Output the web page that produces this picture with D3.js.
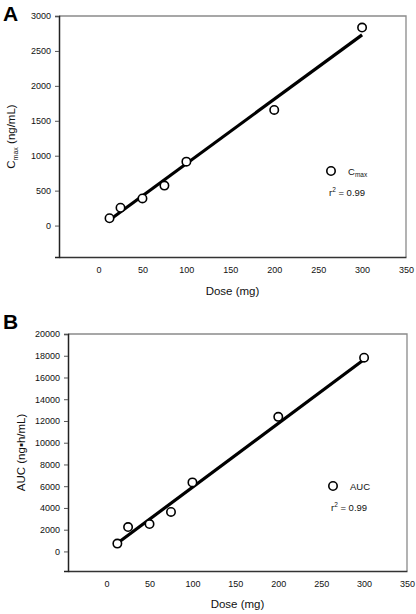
<!DOCTYPE html>
<html><head><meta charset="utf-8">
<script src="https://cdn.jsdelivr.net/npm/d3@7"></script>
<style>body{margin:0;background:#fff}svg{display:block;font-family:"Liberation Sans",Arial,sans-serif}</style>
</head><body>
<svg id="c" width="416" height="614"></svg>
<script>
// Data
const doses = [12.5, 25, 50, 75, 100, 200, 300];
const cmaxValues = [105, 255, 388, 572, 915, 1655, 2835];
const aucValues = [720, 2240, 2520, 3630, 6350, 12380, 17820];
const cmaxFit = [[12.5, 80], [300, 2730]];
const aucFit = [[12.5, 760], [300, 17650]];
const xTicks = [0, 50, 100, 150, 200, 250, 300, 350];
const cmaxTicks = [0, 500, 1000, 1500, 2000, 2500, 3000];
const aucTicks = [0, 2000, 4000, 6000, 8000, 10000, 12000, 14000, 16000, 18000, 20000];

const svg = d3.select("#c");

function panel(o) {
  const g = svg.append("g");
  const x = d3.scaleLinear().domain([-45, 350]).range([o.left, o.right]);
  const y = d3.scaleLinear().domain(o.yDomain).range([o.bottom, o.top]);
  // frame top/right (gray)
  g.append("path").attr("d", `M${o.left},${o.top}H${o.right}V${o.bottom}`)
    .attr("fill", "none").attr("stroke", "#8a8a8a").attr("stroke-width", 1.3);
  // x axis
  const xa = g.append("g").attr("transform", `translate(0,${o.bottom})`)
    .call(d3.axisBottom(x).tickValues(xTicks).tickSize(0).tickPadding(o.xPad).tickFormat(d3.format("d")));
  xa.select(".domain").attr("stroke", "#333").attr("stroke-width", 1.5);
  xa.selectAll("text").attr("font-size", 9).attr("fill", "#111").attr("font-family", "Liberation Sans, Arial, sans-serif");
  // y axis
  const ya = g.append("g").attr("transform", `translate(${o.left},0)`)
    .call(d3.axisLeft(y).tickValues(o.yTicks).tickSize(4).tickPadding(4).tickFormat(d3.format("d")));
  ya.select(".domain").attr("stroke", "#222").attr("stroke-width", 1.5);
  ya.selectAll(".tick line").attr("stroke", "#555");
  ya.selectAll("text").attr("font-size", 9).attr("fill", "#111").attr("font-family", "Liberation Sans, Arial, sans-serif");
  // fit line
  g.append("line")
    .attr("x1", x(o.fit[0][0])).attr("y1", y(o.fit[0][1]))
    .attr("x2", x(o.fit[1][0])).attr("y2", y(o.fit[1][1]))
    .attr("stroke", "#000").attr("stroke-width", 3.2);
  // points
  g.selectAll("circle.pt").data(doses.map((d, i) => [d, o.values[i]])).enter()
    .append("circle").attr("class", "pt")
    .attr("cx", d => x(d[0])).attr("cy", d => y(d[1])).attr("r", 4.2)
    .attr("fill", "#fff").attr("stroke", "#000").attr("stroke-width", 1.6);
  // axis titles
  g.append("text").attr("x", (o.left + o.right) / 2).attr("y", o.xTitleY)
    .attr("text-anchor", "middle").attr("font-size", 11.5).attr("fill", "#111").text("Dose (mg)");
  const yt = g.append("text")
    .attr("transform", `translate(${o.yTitleX},${(o.top + o.bottom) / 2}) rotate(-90)`)
    .attr("text-anchor", "middle").attr("font-size", 11.5).attr("fill", "#111");
  o.yTitle(yt);
  // panel letter
  g.append("text").attr("x", o.letterX).attr("y", o.letterY).attr("font-size", 21)
    .attr("font-weight", "bold").attr("fill", "#000").text(o.letter);
  // legend
  g.append("circle").attr("cx", o.legX).attr("cy", o.legY).attr("r", 4.2)
    .attr("fill", "#fff").attr("stroke", "#000").attr("stroke-width", 1.6);
  const lt = g.append("text").attr("x", o.legX + 17).attr("y", o.legY + 3.5)
    .attr("font-size", 9.5).attr("fill", "#111");
  o.legText(lt);
  const rt = g.append("text").attr("x", o.legX - 2).attr("y", o.legY + 25)
    .attr("font-size", 9.5).attr("fill", "#111");
  rt.append("tspan").text("r");
  rt.append("tspan").attr("font-size", 6.5).attr("dy", -4).text("2");
  rt.append("tspan").attr("dy", 4).text(" = 0.99");
}

panel({
  left: 59, right: 406, top: 16, bottom: 257,
  yDomain: [-450, 3000], yTicks: cmaxTicks, values: cmaxValues, fit: cmaxFit,
  xPad: 10, xTitleY: 295, yTitleX: 15,
  yTitle: t => {
    t.append("tspan").text("C");
    t.append("tspan").attr("font-size", 7).attr("dy", 3).text("max");
    t.append("tspan").attr("dy", -3).text(" (ng/mL)");
  },
  letter: "A", letterX: 3, letterY: 21,
  legX: 331, legY: 171,
  legText: t => {
    t.append("tspan").text("C");
    t.append("tspan").attr("font-size", 6.5).attr("dy", 2.5).text("max");
  }
});

panel({
  left: 68, right: 407, top: 334, bottom: 571,
  yDomain: [-1800, 20000], yTicks: aucTicks, values: aucValues, fit: aucFit,
  xPad: 10, xTitleY: 608, yTitleX: 25,
  yTitle: t => { t.text("AUC (ng\u25AAh/mL)"); },
  letter: "B", letterX: 3, letterY: 329,
  legX: 333, legY: 486,
  legText: t => { t.text("AUC"); }
});
</script>
</body></html>
